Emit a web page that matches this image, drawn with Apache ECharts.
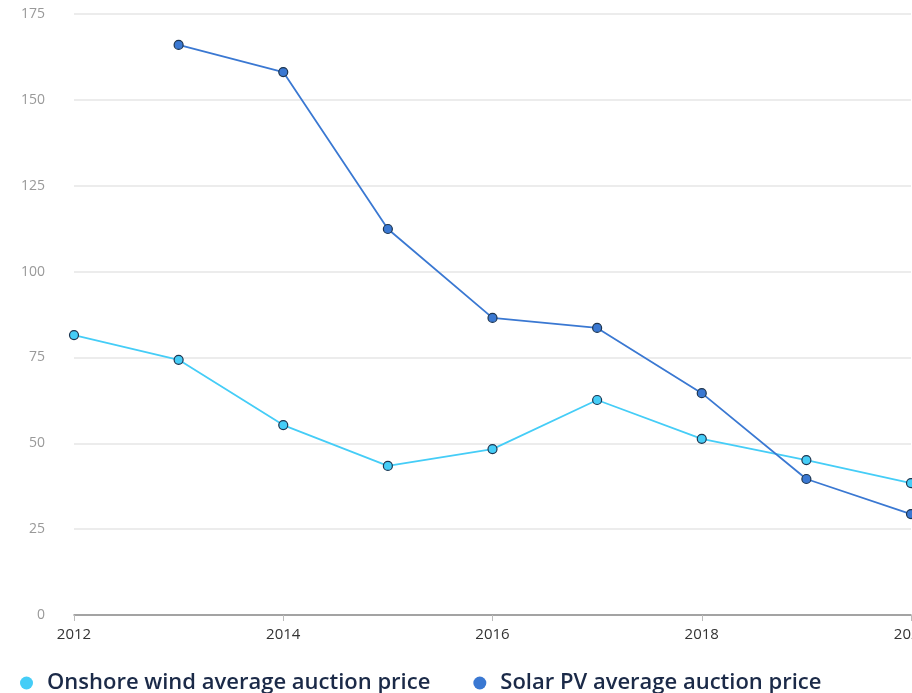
<!DOCTYPE html>
<html>
<head>
<meta charset="utf-8">
<script src="https://cdn.jsdelivr.net/npm/echarts@6/dist/echarts.min.js"></script>
<style>
  html, body { margin: 0; padding: 0; background: #fff; }
  #chart { width: 912px; height: 693px; }
</style>
</head>
<body>
<div id="chart"></div>
<script>
// Average auction prices by year
const years = ['2012', '2013', '2014', '2015', '2016', '2017', '2018', '2019', '2020'];
const onshoreWind = [81.5, 74.3, 55.3, 43.4, 48.3, 62.6, 51.3, 45.1, 38.4];
const solarPV = [null, 166, 158.1, 112.4, 86.5, 83.6, 64.6, 39.6, 29.4];
const seriesNames = ['Onshore wind average auction price', 'Solar PV average auction price'];

const chart = echarts.init(document.getElementById('chart'), null, { renderer: 'canvas' });

const lineSeries = (name, data, color) => ({
  name: name,
  type: 'line',
  data: data,
  symbol: 'circle',
  symbolSize: 9,
  showAllSymbol: true,
  connectNulls: false,
  lineStyle: { color: color, width: 1.8 },
  itemStyle: { color: color, borderColor: '#1d3550', borderWidth: 1.2 },
  emphasis: { disabled: true }
});

chart.setOption({
  animation: false,
  grid: { left: 74, right: 1, top: 14, bottom: 78, outerBoundsMode: 'none', containLabel: false },
  legend: {
    bottom: -6,
    left: 15,
    itemGap: 43,
    icon: 'circle',
    itemWidth: 13,
    itemHeight: 13,
    itemStyle: { borderWidth: 0 },
    textStyle: {
      fontFamily: 'Open Sans', fontSize: 22, fontWeight: 600, color: '#1b2a48',
      padding: [0, 0, 0, 9]
    },
    data: seriesNames
  },
  xAxis: {
    type: 'category',
    data: years,
    boundaryGap: false,
    axisLine: { lineStyle: { color: '#8a8a8a', width: 1.5 } },
    axisTick: { interval: 1, length: 6, lineStyle: { color: '#bbbbbb' } },
    axisLabel: { interval: 1, color: '#333', fontFamily: 'Open Sans', fontSize: 15, margin: 12 },
    splitLine: { show: false }
  },
  yAxis: {
    type: 'value',
    min: 0,
    max: 175,
    interval: 25,
    axisLine: { show: false },
    axisTick: { show: false },
    axisLabel: { color: '#999', fontFamily: 'Open Sans', fontSize: 14, margin: 29 },
    splitLine: { lineStyle: { color: '#ececec', width: 2 } }
  },
  series: [
    lineSeries(seriesNames[0], onshoreWind, '#45cdf7'),
    lineSeries(seriesNames[1], solarPV, '#3a78d2')
  ]
});
</script>
</body>
</html>
